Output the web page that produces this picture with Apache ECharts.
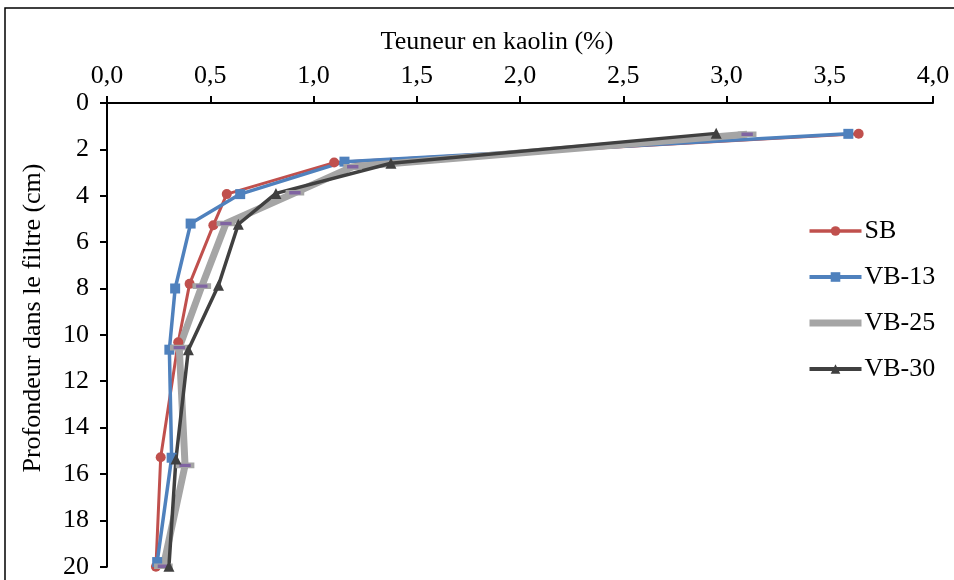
<!DOCTYPE html>
<html>
<head>
<meta charset="utf-8">
<script src="https://cdn.jsdelivr.net/npm/echarts@6/dist/echarts.min.js"></script>
<style>
html,body{margin:0;padding:0;background:#fff;}
#chart{width:954px;height:580px;}
</style>
</head>
<body>
<div id="chart"></div>
<script>
// ---- data ----
const seriesNames = ['SB', 'VB-13', 'VB-25', 'VB-30'];
const xTicks = [0, 0.5, 1.0, 1.5, 2.0, 2.5, 3.0, 3.5, 4.0];
const yTicks = [0, 2, 4, 6, 8, 10, 12, 14, 16, 18, 20];

const sbKaolin   = [3.64, 1.10, 0.58, 0.515, 0.40, 0.345, 0.26, 0.237];
const sbDepth    = [1.33, 2.57, 3.93, 5.27, 7.80, 10.32, 15.28, 20.0];

const vb13Kaolin = [3.59, 1.15, 0.645, 0.405, 0.33, 0.302, 0.313, 0.243];
const vb13Depth  = [1.33, 2.53, 3.93, 5.20, 8.00, 10.64, 15.30, 19.80];

const vb25Kaolin = [3.10, 1.19, 0.91, 0.576, 0.459, 0.35, 0.378, 0.273];
const vb25Depth  = [1.35, 2.75, 3.87, 5.20, 7.90, 10.55, 15.63, 19.98];

const vb30Kaolin = [2.95, 1.375, 0.818, 0.636, 0.54, 0.394, 0.334, 0.30];
const vb30Depth  = [1.31, 2.60, 3.90, 5.23, 7.86, 10.64, 15.35, 19.98];

function pairs(xs, ys){ return xs.map((v,i)=>[v, ys[i]]); }

const FONT = '"Liberation Serif", "Times New Roman", serif';
const FS = 26;
const chart = echarts.init(document.getElementById('chart'));

chart.setOption({
  animation: false,
  backgroundColor: '#fff',
  grid: { left: 107, top: 103, right: 21, bottom: 13.3, containLabel: false },
  xAxis: {
    type: 'value', position: 'top',
    min: xTicks[0], max: xTicks[xTicks.length-1], interval: 0.5,
    axisLine: { show: true, onZero: false, lineStyle: { color: '#000', width: 2 } },
    axisTick: { show: true, inside: false, length: 7, lineStyle: { color: '#000', width: 2 } },
    splitLine: { show: false },
    axisLabel: { margin: 14, color: '#000', fontFamily: FONT, fontSize: FS,
      formatter: v => v.toFixed(1).replace('.', ',') }
  },
  yAxis: {
    type: 'value', inverse: true,
    min: yTicks[0], max: yTicks[yTicks.length-1], interval: 2,
    axisLine: { show: true, onZero: false, lineStyle: { color: '#000', width: 2 } },
    axisTick: { show: true, inside: false, length: 7, lineStyle: { color: '#000', width: 2 } },
    splitLine: { show: false },
    axisLabel: { margin: 18, color: '#000', fontFamily: FONT, fontSize: FS }
  },
  legend: {
    orient: 'vertical', left: 801, top: 213,
    itemWidth: 52, itemHeight: 12, itemGap: 20,
    textStyle: { color: '#000', fontFamily: FONT, fontSize: FS, padding: [0,0,0,-2] },
    data: [
      { name: seriesNames[0], lineStyle: { width: 3.5 } },
      { name: seriesNames[1], lineStyle: { width: 4 } },
      { name: seriesNames[2], lineStyle: { width: 7 }, itemStyle: { opacity: 0 } },
      { name: seriesNames[3], lineStyle: { width: 4 } }
    ]
  },
  graphic: [
    { type: 'rect', shape: { x: 5, y: 8, width: 1200, height: 1200 },
      style: { fill: 'none', stroke: '#000', lineWidth: 1.5 }, silent: true, z: -1 },
    { type: 'text', x: 497, y: 42,
      style: { text: 'Teuneur en kaolin (%)', font: FS + 'px ' + FONT, fill: '#000',
        textAlign: 'center', textVerticalAlign: 'middle' } },
    { type: 'text', x: 33, y: 318, rotation: Math.PI/2,
      style: { text: 'Profondeur dans le filtre (cm)', font: FS + 'px ' + FONT, fill: '#000',
        textAlign: 'center', textVerticalAlign: 'middle' } }
  ],
  series: [
    { name: seriesNames[0], type: 'line', data: pairs(sbKaolin, sbDepth), clip: false,
      symbol: 'circle', symbolSize: 10,
      lineStyle: { color: '#C0504D', width: 3 }, itemStyle: { color: '#C0504D' } },
    { name: seriesNames[1], type: 'line', data: pairs(vb13Kaolin, vb13Depth), clip: false,
      symbol: 'rect', symbolSize: 10,
      lineStyle: { color: '#4F81BD', width: 3.5 }, itemStyle: { color: '#4F81BD' } },
    { name: seriesNames[2], type: 'line', data: pairs(vb25Kaolin, vb25Depth), clip: false,
      symbol: 'rect', symbolSize: [15, 4.5],
      lineStyle: { color: '#A5A5A5', width: 7 },
      itemStyle: { color: '#8064A2', borderColor: '#A5A5A5', borderWidth: 2 } },
    { name: seriesNames[3], type: 'line', data: pairs(vb30Kaolin, vb30Depth), clip: false,
      symbol: 'triangle', symbolSize: 11,
      lineStyle: { color: '#404040', width: 3.5 }, itemStyle: { color: '#404040' } }
  ]
});
</script>
</body>
</html>
